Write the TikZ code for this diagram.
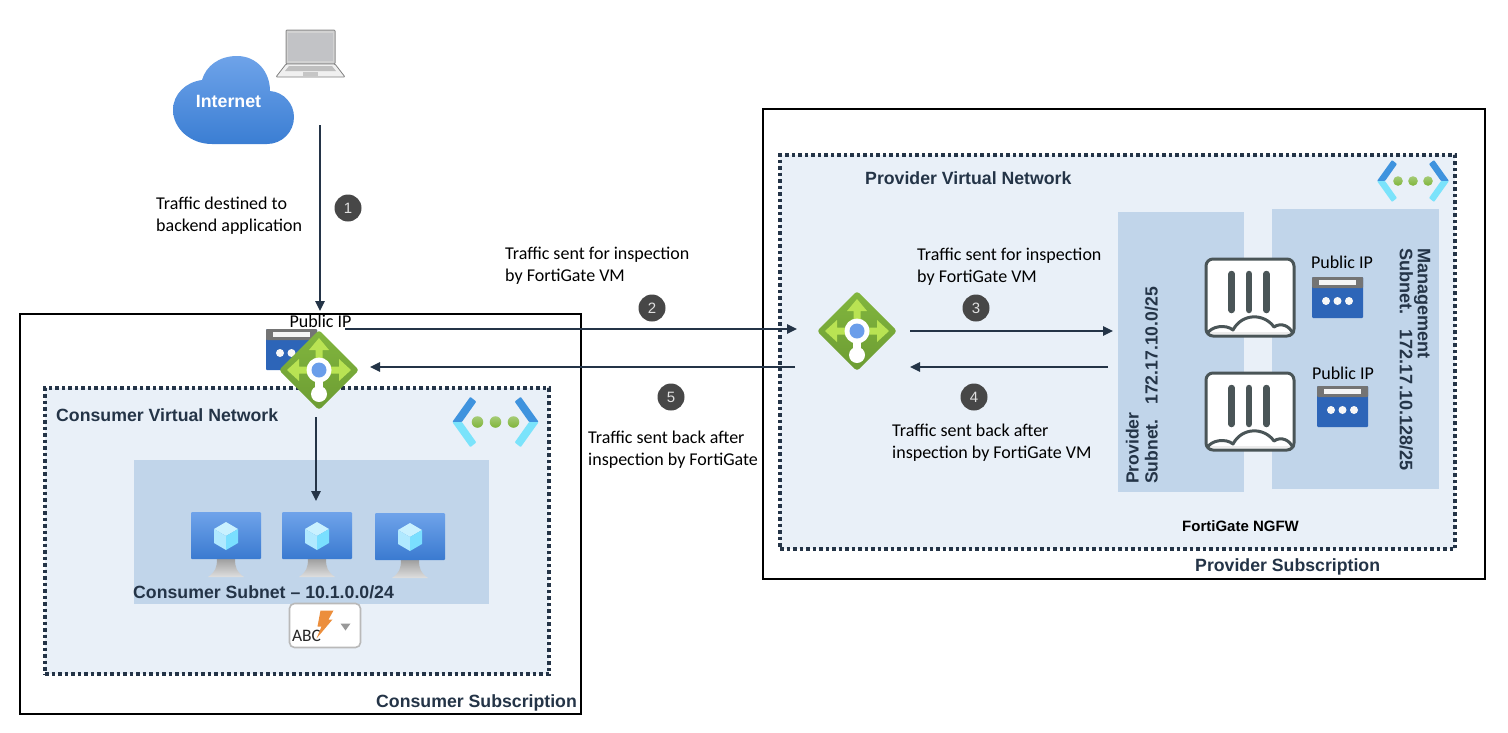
\documentclass[tikz,border=0pt]{standalone}
\usepackage{fontspec}
\setmainfont{Carlito}
\newfontfamily\boldsans{Liberation Sans}[BoldFont={Liberation Sans Bold}]
\usetikzlibrary{arrows.meta,calc,shapes.geometric}
\definecolor{ink}{HTML}{243447}
\definecolor{vnetbg}{HTML}{E9F0F8}
\definecolor{subnetbg}{HTML}{C1D5EA}
\definecolor{badge}{HTML}{474747}
\definecolor{ipblue}{HTML}{2D65B8}
\definecolor{ipgray}{HTML}{747474}
\definecolor{fgline}{HTML}{4A5557}
\definecolor{bolt}{HTML}{EC8E3C}
\tikzset{
  x=1pt,y=-1pt,
  txt/.style={anchor=west,inner sep=0pt,align=left,text=black,font=\fontsize{18}{22}\selectfont},
  iplabel/.style={anchor=center,inner sep=0pt,text=black,font=\fontsize{18}{20}\selectfont},
  hdr/.style={anchor=west,inner sep=0pt,text=ink,font=\boldsans\bfseries\fontsize{17.7}{20}\selectfont},
  rot/.style={inner sep=0pt,align=left,text=ink,font=\boldsans\fontsize{17.6}{19}\selectfont\bfseries},
  subscr/.style={draw=black,line width=1.5pt,fill=white,anchor=north west,inner sep=0pt,outer sep=0pt},
  vnetbox/.style={draw=ink,line width=3.5pt,dash pattern=on 3.5pt off 3pt,fill=vnetbg,anchor=north west,inner sep=0pt,outer sep=0pt},
  subnetbox/.style={fill=subnetbg,anchor=north west,inner sep=0pt,outer sep=0pt},
  flow/.style={draw=ink,line width=1.6pt,-{Triangle[length=10pt,width=9.5pt]}},
  holder/.style={inner sep=0pt,outer sep=0pt},
  numbadge/.style={circle,fill=badge,text=white!88!black,minimum size=27pt,inner sep=0pt,font=\boldsans\fontsize{15}{17}\selectfont},
  lbicon/.pic={
    \shade[top color=lbtop,bottom color=lbbot,rounded corners=3pt] (0,-40) -- (40,0) -- (0,40) -- (-40,0) -- cycle;
    \fill[lbarrow] (0,-32) -- (10,-20) -- (3.5,-20) -- (3.5,-3.5) -- (20,-3.5) -- (20,-11) -- (32,0) -- (20,11) -- (20,3.5) -- (-20,3.5) -- (-20,11) -- (-32,0) -- (-20,-11) -- (-20,-3.5) -- (-3.5,-3.5) -- (-3.5,-20) -- (-10,-20) -- cycle;
    \fill[white] (0,0) circle[radius=12.5];
    \fill[white] (-4,8) rectangle (4,20);
    \fill[white] (0,24) circle[radius=8];
    \fill[lbblue] (0,0) circle[radius=7.5];
  },
  ipicon/.pic={
    \fill[ipblue,rounded corners=1pt] (0,0) rectangle (51,41);
    \fill[ipgray,rounded corners=1pt] (0,0) rectangle (51,11);
    \fill[white!92!gray] (7,3) rectangle (44,7.5);
    \foreach \d in {14,25.5,37}{\fill[white!94!gray] (\d,24) circle[radius=4];}
  },
  vneticon/.pic={
    \fill[vnetdark,rounded corners=0.8pt] (-36,0) -- (-21,-21) -- (-16,-17) -- (-28,0) -- cycle;
    \fill[vnetcyan,rounded corners=0.8pt] (-36,0) -- (-28,0) -- (-16,17) -- (-21,21) -- cycle;
    \fill[vnetdark,rounded corners=0.8pt] (36,0) -- (21,-21) -- (16,-17) -- (28,0) -- cycle;
    \fill[vnetcyan,rounded corners=0.8pt] (36,0) -- (28,0) -- (16,17) -- (21,21) -- cycle;
    \foreach \d in {-15,0,15}{\shade[top color=vnetgreen!70!white,bottom color=vnetgreen] (\d,0) circle[radius=4.8];}
  },
  vmicon/.pic={
    \shade[top color=gray!75,bottom color=gray!25] (26,47) -- (44,47) .. controls (44,56) and (46,60) .. (53,65) -- (17,65) .. controls (24,60) and (26,56) .. (26,47) -- cycle;
    \shade[top color=vmtop,bottom color=vmbot,rounded corners=1pt] (0,0) rectangle (70,47);
    \fill[cubea] (35,10) -- (47,17) -- (35,24) -- (23,17) -- cycle;
    \fill[cubeb] (23,17) -- (35,24) -- (35,38) -- (23,31) -- cycle;
    \fill[cubec] (47,17) -- (35,24) -- (35,38) -- (47,31) -- cycle;
  },
  fgicon/.pic={
    \fill[white,rounded corners=7pt] (0,0) rectangle (88,77);
    \fill[gray!15] (4,75) -- (84,75) -- (84,73) -- (4,73) -- cycle;
    \draw[fgline,line width=3pt,line join=round] (1,75) .. controls (5,67) and (20,65) .. (27,71) .. controls (36,54) and (58,54) .. (68,68) .. controls (75,63) and (84,67) .. (87,75);
    \draw[fgline,line width=3pt,rounded corners=7pt] (0,0) rectangle (88,77);
    \foreach \d in {25.7,43,60.3}{\draw[fgline,line width=6.5pt,line cap=round] (\d,15) -- (\d,51);}
  },
  laptopicon/.pic={
    \fill[gray!35,draw=gray!90,line width=1pt,rounded corners=1pt] (10,0) rectangle (59,34);
    \fill[lapscreen] (12,3) rectangle (57,31);
    \fill[gray!12,draw=gray,line width=0.8pt,rounded corners=1pt] (10,34) -- (59,34) -- (69,47) -- (0,47) -- cycle;
    \fill[gray!50] (13,36) -- (56,36) -- (60,41) -- (9,41) -- cycle;
    \fill[gray!45] (27,42) rectangle (42,46);
  },
  abcicon/.pic={
    \fill[white,draw=gray!55,line width=1.6pt,rounded corners=5pt] (0,0) rectangle (71,44);
    \node[inner sep=0pt,text=gray!30!black,font=\fontsize{17.5}{18}\selectfont] (abctxt) at (17,32.5) {ABC};
    \fill[bolt] (31,7) -- (44,7) -- (39,16) -- (43,16) -- (27,35) -- (32,23) -- (28,23) -- cycle;
    \fill[gray!80] (51,20) -- (61,20) -- (56,27) -- cycle;
  }
}
\definecolor{lbtop}{HTML}{82B63E}
\definecolor{lbbot}{HTML}{6C9C33}
\definecolor{lbarrow}{HTML}{B9E353}
\definecolor{lbblue}{HTML}{6B9EEA}
\definecolor{vnetdark}{HTML}{3F93DE}
\definecolor{vnetcyan}{HTML}{7BE3FB}
\definecolor{vnetgreen}{HTML}{7FB53B}
\definecolor{vmtop}{HTML}{6FA3EA}
\definecolor{vmbot}{HTML}{3A7AD0}
\definecolor{cubea}{HTML}{C9F1FF}
\definecolor{cubeb}{HTML}{B0E9FF}
\definecolor{cubec}{HTML}{7ADFFF}
\definecolor{lapscreen}{HTML}{C2C3C6}
\definecolor{cloudtop}{HTML}{6EA3E9}
\definecolor{cloudbot}{HTML}{3B7ED3}
\begin{document}
\begin{tikzpicture}
\useasboundingbox (0,0) rectangle (1508,732);
\fill[white] (0,0) rectangle (1508,732);

% containers
\node[subscr,minimum width=561pt,minimum height=400pt] (csubscr) at (20,314) {};
\node[subscr,minimum width=722pt,minimum height=470pt] (psubscr) at (763,109) {};
\node[vnetbox,minimum width=504pt,minimum height=286pt] (cvnet) at (45,388) {};
\node[vnetbox,minimum width=675pt,minimum height=394pt] (pvnet) at (780,155) {};
\node[subnetbox,minimum width=355pt,minimum height=144pt] (csubnet) at (134,460) {};
\node[subnetbox,minimum width=126pt,minimum height=280pt] (psubnet) at (1118,212) {};
\node[subnetbox,minimum width=167pt,minimum height=280pt] (msubnet) at (1272,209) {};

% internet
\shade[top color=cloudtop,bottom color=cloudbot] (212,144) .. controls (190,144) and (173,128) .. (173,110) .. controls (173,94) and (186,82) .. (202,80) .. controls (206,66) and (219,56) .. (237,56) .. controls (257,56) and (270,72) .. (270,91) .. controls (284,92) and (294,104) .. (294,117) .. controls (294,132) and (282,144) .. (267,144) -- cycle;
\node[inner sep=0pt,text=white,font=\boldsans\bfseries\fontsize{17.8}{18}\selectfont] (internet) at (228.5,101) {Internet};
\pic at (276,30) {laptopicon};

% public ip and load balancers
\pic at (266,329) {ipicon};
\node[holder,minimum size=80pt] (lbc) at (319,370) {};
\pic at (lbc) {lbicon};
\node[holder,minimum size=80pt] (lbp) at (857,331) {};
\pic at (lbp) {lbicon};
\node[iplabel] (ipc) at (320.5,321) {Public IP};

% vnet icons
\pic[scale=1.2] at (495.5,422) {vneticon};
\pic at (1413,181) {vneticon};

% VMs
\node[holder,anchor=north west,minimum width=70pt,minimum height=65pt] (vm1) at (191,512) {};
\node[holder,anchor=north west,minimum width=70pt,minimum height=65pt] (vm2) at (282,512) {};
\node[holder,anchor=north west,minimum width=70pt,minimum height=65pt] (vm3) at (375,513) {};
\pic at (vm1.north west) {vmicon};
\pic at (vm2.north west) {vmicon};
\pic at (vm3.north west) {vmicon};
\pic at (289.5,603.5) {abcicon};

% fortigate
\pic at (1206,259) {fgicon};
\pic at (1206,373) {fgicon};
\pic at (1312,277) {ipicon};
\pic at (1317,386) {ipicon};
\node[iplabel] (ipf1) at (1342,262) {Public IP};
\node[iplabel] (ipf2) at (1343,373) {Public IP};

% connector ends
\coordinate (inetout) at (320,125);
\coordinate (ipin) at (320,311);
\coordinate (cout) at (345,329);
\coordinate (pin) at (797,329);
\coordinate (pback) at (795,367);
\coordinate (cin) at (370,367);
\coordinate (lbcout) at (316,417);
\coordinate (vmin) at (316,501);
\coordinate (lbpout) at (910,331);
\coordinate (fgin) at (1113,331);
\coordinate (fgback) at (1108,367);
\coordinate (lbpin) at (910,367);

\draw[flow] (inetout) -- (ipin);
\draw[flow] (cout) -- (pin);
\draw[flow] (pback) -- (cin);
\draw[flow] (lbcout) -- (vmin);
\draw[flow] (lbpout) -- (fgin);
\draw[flow] (fgback) -- (lbpin);

% badges
\node[numbadge] (b1) at (348,208) {1};
\node[numbadge] (b2) at (652,308) {2};
\node[numbadge] (b3) at (976,308) {3};
\node[numbadge] (b4) at (974,397) {4};
\node[numbadge] (b5) at (671,397) {5};

% labels
\node[txt] (t1) at (156,216) {Traffic destined to\\backend application};
\node[txt] (t2) at (505,266) {Traffic sent for inspection\\by FortiGate VM};
\node[txt] (t3) at (917,267) {Traffic sent for inspection\\by FortiGate VM};
\node[txt] (t4) at (892,443) {Traffic sent back after\\inspection by FortiGate VM};
\node[txt] (t5) at (588,450) {Traffic sent back after\\inspection by FortiGate};
\node[hdr] (h1) at (865,178) {Provider Virtual Network};
\node[hdr] (h2) at (56,415) {Consumer Virtual Network};
\node[hdr] (h3) at (376,703) {Consumer Subscription};
\node[hdr] (h4) at (1195,567) {Provider Subscription};
\node[hdr] (h5) at (133,592) {Consumer Subnet – 10.1.0.0/24};
\node[hdr,text=black,font=\boldsans\bfseries\fontsize{15}{16}\selectfont] (h6) at (1182,526) {FortiGate NGFW};
\node[rot,rotate=90,anchor=west] (r1) at (1142,484) {Provider\\Subnet.\ \ \ 172.17.10.0/25};
\node[rot,rotate=-90,anchor=west,font=\boldsans\fontsize{18.1}{18}\selectfont\bfseries] (r2) at (1415,248) {Management\\Subnet.\ \ \ 172.17.10.128/25};
\end{tikzpicture}
\end{document}
